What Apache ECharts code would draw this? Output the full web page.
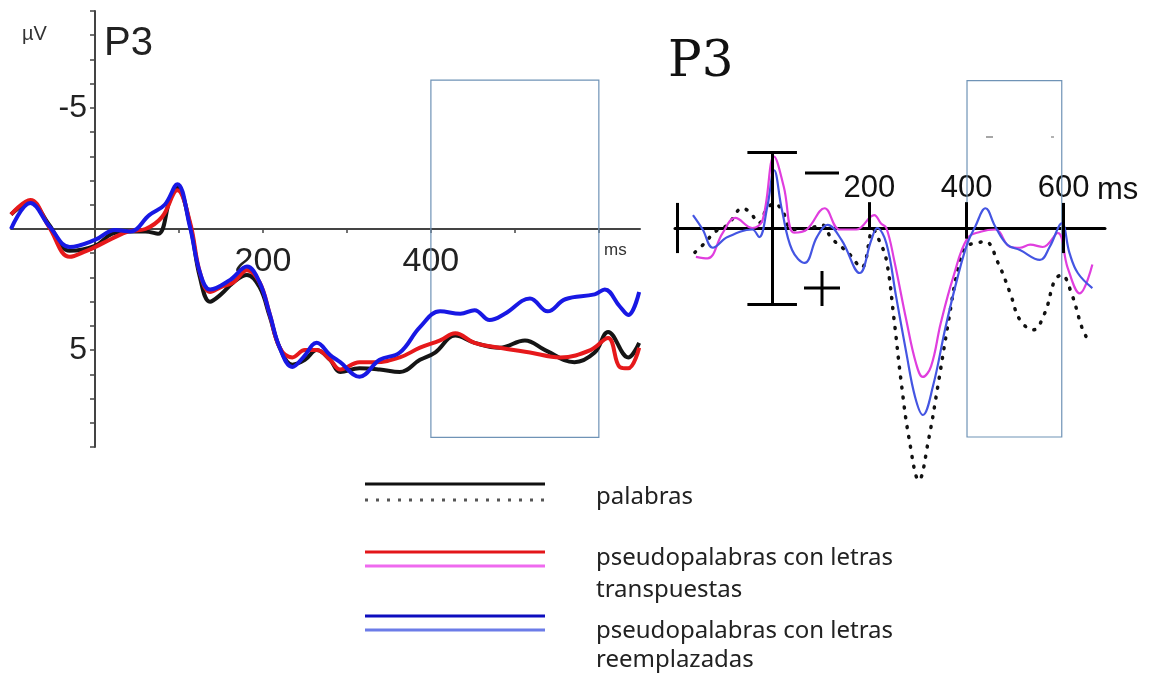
<!DOCTYPE html>
<html>
<head>
<meta charset="utf-8">
<script src="https://cdn.jsdelivr.net/npm/echarts@6/dist/echarts.min.js"></script>
<style>
  html, body { margin: 0; padding: 0; background: #fff; }
  #chart { width: 1150px; height: 675px; }
</style>
</head>
<body>
<div id="chart"></div>
<script>
// left panel (ms, µV; negative plotted up)
const leftBlackT = [-100, -77, -55, -30, 0, 20, 40, 60, 75, 90, 98, 113, 125, 137, 150, 165, 181, 196, 208, 220, 235, 250, 264, 280, 292, 315, 339, 363, 387, 405, 429, 452, 482, 512, 536, 571, 595, 611, 635, 648];
const leftBlackV = [-0.6, -1.1, -0.2, 0.9, 0.7, 0.2, 0.1, 0.1, 0.2, -1.3, -1.7, -0.2, 2.0, 3.0, 2.7, 2.2, 1.9, 2.4, 3.6, 4.9, 5.6, 5.4, 5.0, 5.4, 5.9, 5.75, 5.8, 5.9, 5.4, 5.1, 4.4, 4.7, 4.9, 4.6, 5.0, 5.5, 5.1, 4.25, 5.3, 4.7];
const leftRedT = [-100, -77, -55, -30, -10, 0, 20, 40, 60, 80, 98, 113, 125, 137, 150, 165, 181, 196, 208, 220, 235, 250, 264, 280, 292, 315, 333, 363, 387, 411, 429, 452, 482, 518, 554, 590, 611, 625, 635, 648];
const leftRedV = [-0.6, -1.2, -0.1, 1.15, 0.9, 0.75, 0.4, 0.1, 0.0, -0.5, -1.6, -0.3, 1.8, 2.6, 2.4, 2.2, 1.7, 2.2, 3.5, 4.9, 5.3, 5.0, 5.0, 5.4, 5.8, 5.5, 5.5, 5.3, 4.9, 4.6, 4.3, 4.7, 4.9, 5.1, 5.3, 5.0, 4.5, 5.7, 5.75, 4.9];
const leftBlueT = [-100, -77, -54, -30, 0, 24, 42, 65, 83, 98, 113, 125, 137, 161, 181, 196, 208, 220, 235, 248, 264, 280, 292, 315, 339, 363, 387, 411, 435, 452, 470, 488, 518, 539, 560, 595, 607, 625, 635, 648];
const leftBlueV = [0.0, -1.07, -0.1, 0.74, 0.45, 0.04, 0.1, -0.58, -1.0, -1.85, -0.1, 1.8, 2.5, 2.1, 1.55, 2.2, 3.5, 4.9, 5.7, 5.3, 4.7, 5.2, 5.5, 6.1, 5.4, 5.1, 4.05, 3.4, 3.5, 3.35, 3.76, 3.5, 2.87, 3.4, 2.9, 2.7, 2.5, 3.2, 3.55, 2.6];

// right panel
const rightDotT = [-159, -139, -118, -92, -61, -45, -27, -12, 4, 20, 41, 67, 102, 122, 157, 184, 208, 220, 235, 251, 265, 282, 302, 322, 341, 361, 382, 398, 418, 439, 465, 490, 510, 537, 561, 582, 596, 616, 637, 647];
const rightDotV = [1.6, 1.0, 0.26, -0.2, -1.3, -1.0, -0.33, -1.2, -1.6, -1.2, 0.1, 0.1, -0.2, 0.67, 1.65, 2.6, 0.1, 0.8, 2.1, 6.05, 10, 13.9, 16.6, 13.9, 10.4, 6.5, 2.76, 1.25, 1.0, 0.9, 2.3, 4.3, 6.05, 6.7, 5.6, 3.4, 3.1, 4.3, 6.5, 7.2];
const rightMagT = [-157, -133, -102, -76, -41, -20, 4, 24, 45, 71, 108, 139, 173, 210, 224, 235, 251, 276, 296, 310, 327, 347, 373, 402, 429, 459, 490, 510, 531, 557, 588, 608, 633, 659];
const rightMagV = [1.9, 2.0, 0.33, -0.66, 0.0, -0.5, -4.7, -2.7, 0.3, 0.1, -1.3, 0.1, 0.1, -0.85, -0.3, 0.0, 2.1, 6.05, 8.9, 9.8, 9.1, 6.25, 3.2, 0.67, 0.25, 0.1, 1.25, 1.3, 1.1, 1.25, 0.33, 2.6, 4.3, 2.4];
const rightBlueT = [-163, -143, -122, -92, -41, -27, -10, 4, 20, 41, 67, 92, 114, 143, 180, 204, 216, 235, 255, 276, 294, 310, 331, 357, 382, 402, 418, 439, 459, 484, 510, 551, 571, 596, 612, 629, 659];
const rightBlueV = [-0.85, 0.1, 1.3, 0.6, 0.1, 0.6, -1.4, -3.8, -1.2, 1.45, 2.3, 0.6, -0.2, 0.8, 2.96, 0.8, 0.0, 1.0, 4.5, 8.2, 11.1, 12.3, 10.4, 6.5, 3.2, 1.0, -0.1, -1.3, -0.1, 1.1, 1.45, 2.1, 1.25, -0.3, 1.65, 2.96, 3.95];

const leftXTicks = [100, 200, 300, 400, 500, 600];
const leftXLabels = [200, 400];
const leftYLabels = [-5, 5];
const rightXLabels = [200, 400, 600];
const windowMs = [400, 600];

function zip(t, v) { return t.map((x, i) => [x, v[i]]); }

const chart = echarts.init(document.getElementById('chart'));

const sans = 'Liberation Sans, Arial, sans-serif';
const boxStyle = { color: 'rgba(0,0,0,0)', borderColor: '#6f93b6', borderWidth: 1.2 };

// calibration bar + tick bars for right panel
const calib = [
  [[0, -5], [0, 5]],
  [[-51, -5], [51, -5]],
  [[-51, 5], [51, 5]],
  [[-196, -1.65], [-196, 1.65]],
  [[200, -1.7], [200, 0.1]],
  [[400, -1.7], [400, 0.7]],
  [[600, -1.65], [600, 1.65]]
].map(p => [{ coord: p[0] }, { coord: p[1] }]);

function legendText(txt, y) {
  return { type: 'text', x: 596, y: y, style: { text: txt, fontSize: 24, fontFamily: 'Noto Sans', fill: '#222', textVerticalAlign: 'middle' } };
}

const option = {
  animation: false,
  backgroundColor: '#fff',
  grid: [
    { left: 11, top: 11, width: 629, height: 436, containLabel: false, outerBoundsMode: 'none' },
    { left: 675, top: 76, width: 430, height: 425.6, containLabel: false, outerBoundsMode: 'none' }
  ],
  xAxis: [
    {
      gridIndex: 0, type: 'value', min: -100, max: 649, position: 'bottom', offset: -218,
      splitLine: { show: false },
      axisLine: { onZero: false, lineStyle: { color: '#444', width: 2 } },
      axisTick: { customValues: leftXTicks, length: 4, lineStyle: { color: '#444', width: 1.5 } },
      axisLabel: { customValues: leftXLabels, fontSize: 34, fontFamily: sans, color: '#222', margin: 16 }
    },
    {
      gridIndex: 1, type: 'value', min: -200, max: 685, position: 'top', offset: -152,
      splitLine: { show: false },
      axisLine: { onZero: false, lineStyle: { color: '#000', width: 3 } },
      axisTick: { show: false },
      axisLabel: { customValues: rightXLabels, fontSize: 31, fontFamily: sans, color: '#111', margin: 24 }
    }
  ],
  yAxis: [
    {
      gridIndex: 0, type: 'value', min: -9, max: 9, interval: 1, inverse: true,
      position: 'left', offset: -84,
      splitLine: { show: false },
      axisLine: { onZero: false, lineStyle: { color: '#444', width: 2 } },
      axisTick: { length: 5, lineStyle: { color: '#444', width: 1.5 } },
      axisLabel: {
        fontSize: 32, fontFamily: sans, color: '#222', margin: 8,
        formatter: v => leftYLabels.indexOf(v) >= 0 ? String(v) : ''
      }
    },
    { gridIndex: 1, type: 'value', min: -10, max: 18, inverse: true, show: false }
  ],
  series: [
    {
      name: 'palabras', type: 'line', xAxisIndex: 0, yAxisIndex: 0,
      data: zip(leftBlackT, leftBlackV), smooth: 0.4, showSymbol: false,
      lineStyle: { color: '#151515', width: 4 },
      markArea: {
        silent: true, itemStyle: boxStyle,
        data: [[{ coord: [windowMs[0], -6.15] }, { coord: [windowMs[1], 8.6] }]]
      }
    },
    {
      name: 'transpuestas', type: 'line', xAxisIndex: 0, yAxisIndex: 0,
      data: zip(leftRedT, leftRedV), smooth: 0.4, showSymbol: false,
      lineStyle: { color: '#e6191b', width: 4 }
    },
    {
      name: 'reemplazadas', type: 'line', xAxisIndex: 0, yAxisIndex: 0,
      data: zip(leftBlueT, leftBlueV), smooth: 0.4, showSymbol: false,
      lineStyle: { color: '#1818e4', width: 4 }
    },
    {
      name: 'palabras R', type: 'line', xAxisIndex: 1, yAxisIndex: 1,
      data: zip(rightDotT, rightDotV), smooth: 0.4, showSymbol: false,
      lineStyle: { color: '#111', width: 3.5, type: [1, 9], cap: 'round' },
      markArea: {
        silent: true, itemStyle: boxStyle,
        data: [[{ coord: [401, -9.7] }, { coord: [596, 13.75] }]]
      }
    },
    {
      name: 'transpuestas R', type: 'line', xAxisIndex: 1, yAxisIndex: 1,
      data: zip(rightMagT, rightMagV), smooth: 0.4, showSymbol: false,
      lineStyle: { color: '#e03ede', width: 2.2 },
      markLine: {
        silent: true, symbol: 'none', label: { show: false },
        lineStyle: { color: '#000', width: 3, type: 'solid' },
        data: calib
      }
    },
    {
      name: 'reemplazadas R', type: 'line', xAxisIndex: 1, yAxisIndex: 1,
      data: zip(rightBlueT, rightBlueV), smooth: 0.4, showSymbol: false,
      lineStyle: { color: '#4455e2', width: 2.2 }
    }
  ],
  graphic: [
    { type: 'text', left: 22, top: 24, style: { text: 'µV', fontSize: 20, fontFamily: sans, fill: '#333' } },
    { type: 'text', left: 104, top: 24, style: { text: 'P3', fontSize: 40, fontFamily: sans, fill: '#222' } },
    { type: 'text', left: 604, top: 242, style: { text: 'ms', fontSize: 17, fontFamily: sans, fill: '#333' } },
    { type: 'text', left: 668, top: 38, style: { text: 'P3', fontSize: 50, fontFamily: 'DejaVu Serif, serif', fill: '#111' } },
    { type: 'text', left: 1097, top: 175, style: { text: 'ms', fontSize: 31, fontFamily: sans, fill: '#111' } },
    // minus / plus polarity marks
    { type: 'line', shape: { x1: 805, y1: 173, x2: 839, y2: 173 }, style: { stroke: '#000', lineWidth: 3 } },
    { type: 'line', shape: { x1: 804, y1: 288, x2: 840, y2: 288 }, style: { stroke: '#000', lineWidth: 3 } },
    { type: 'line', shape: { x1: 822, y1: 271, x2: 822, y2: 306 }, style: { stroke: '#000', lineWidth: 3 } },
    { type: 'line', shape: { x1: 986, y1: 137, x2: 993, y2: 137 }, style: { stroke: '#888', lineWidth: 1.5 } },
    { type: 'line', shape: { x1: 1051, y1: 137, x2: 1054, y2: 137 }, style: { stroke: '#999', lineWidth: 1.5 } },
    // legend
    { type: 'line', shape: { x1: 365, y1: 484, x2: 545, y2: 484 }, style: { stroke: '#111', lineWidth: 3 } },
    { type: 'line', shape: { x1: 365, y1: 500, x2: 545, y2: 500 }, style: { stroke: '#555', lineWidth: 3, lineDash: [3, 8] } },
    { type: 'line', shape: { x1: 365, y1: 552, x2: 545, y2: 552 }, style: { stroke: '#e3161a', lineWidth: 3 } },
    { type: 'line', shape: { x1: 365, y1: 566, x2: 545, y2: 566 }, style: { stroke: '#ef6aef', lineWidth: 3 } },
    { type: 'line', shape: { x1: 365, y1: 616, x2: 545, y2: 616 }, style: { stroke: '#0d0dbe', lineWidth: 3 } },
    { type: 'line', shape: { x1: 365, y1: 630, x2: 545, y2: 630 }, style: { stroke: '#6c7ce8', lineWidth: 3 } },
    legendText('palabras', 497),
    legendText('pseudopalabras con letras', 558),
    legendText('transpuestas', 590),
    legendText('pseudopalabras con letras', 631),
    legendText('reemplazadas', 660)
  ]
};

chart.setOption(option);
</script>
</body>
</html>
